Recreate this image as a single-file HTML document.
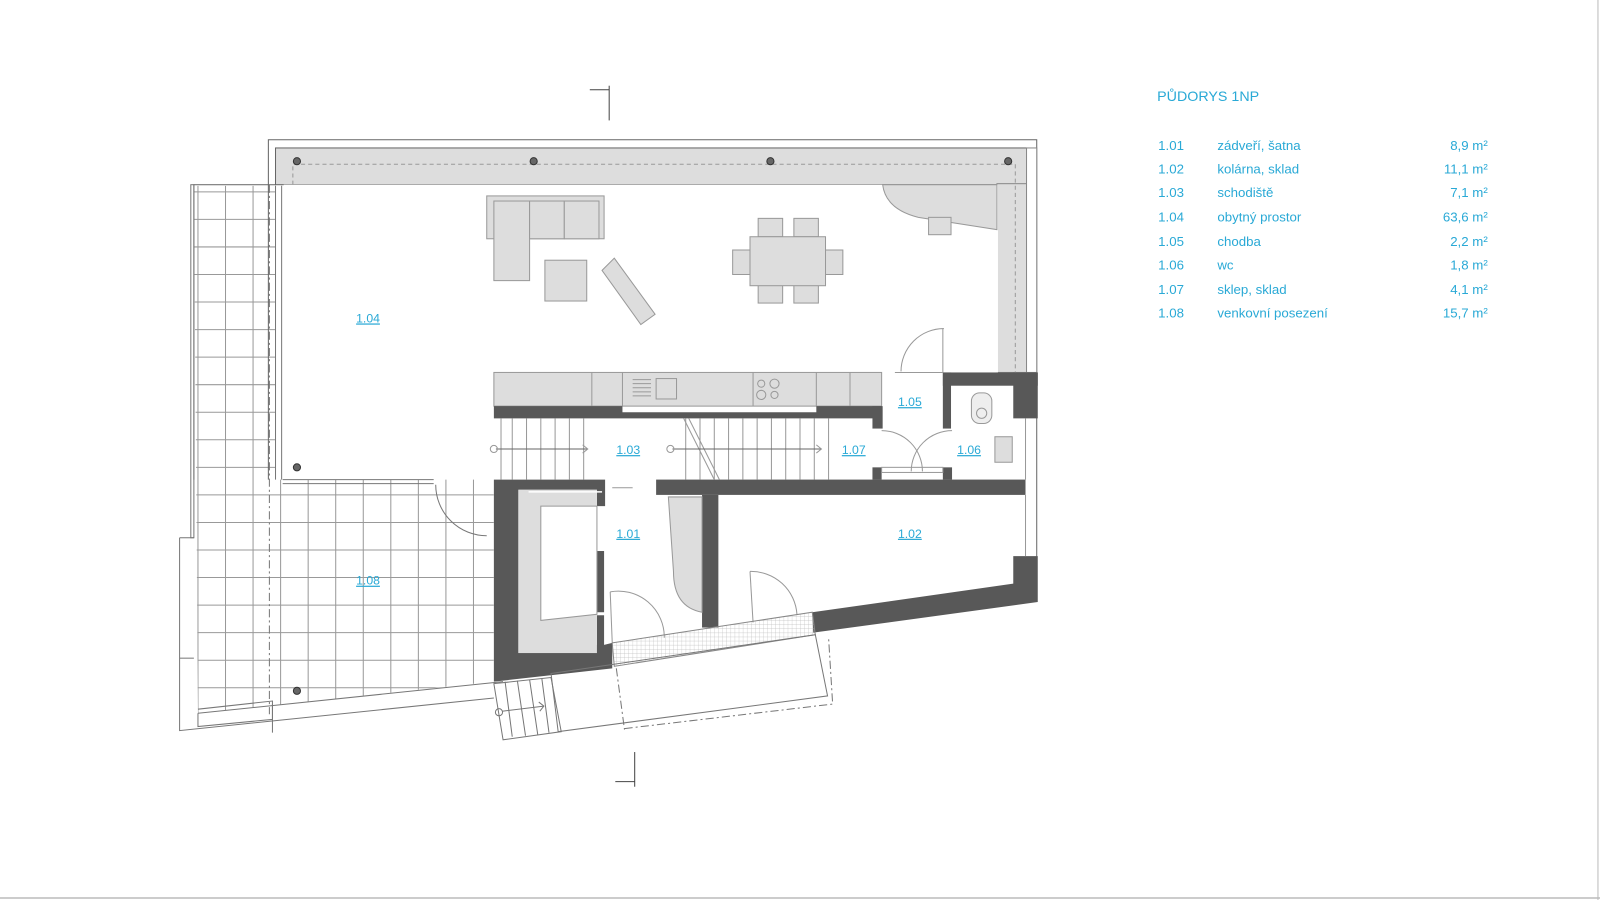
<!DOCTYPE html>
<html><head><meta charset="utf-8"><style>
html,body{margin:0;padding:0;background:#fff;width:1600px;height:900px;overflow:hidden}
svg{display:block}
.t{font-family:"Liberation Sans",sans-serif;fill:#29a9d6}
</style></head><body>
<svg width="1600" height="900" viewBox="0 0 1568 882" preserveAspectRatio="none" xmlns="http://www.w3.org/2000/svg">
<defs>
<clipPath id="terr"><polygon points="190,182 270,182 270,470 484,470 484,668 194,699"/></clipPath>
<pattern id="mesh" width="4" height="4" patternUnits="userSpaceOnUse"><path d="M0 0H4M0 0V4" stroke="#bbb" stroke-width="0.6" fill="none"/></pattern>
</defs>
<rect width="1568" height="882" fill="#fff"/>
<g clip-path="url(#terr)" stroke="#999" stroke-width="1">
<rect x="186" y="180" width="310" height="530" fill="#fff"/>
<path d="M194 180V710M221 180V710M248 180V710M275 180V710M302 180V710M329 180V710M356 180V710M383 180V710M410 180V710M437 180V710M464 180V710"/>
<path d="M186 188H500M186 215H500M186 242H500M186 269H500M186 296H500M186 323H500M186 350H500M186 377H500M186 404H500M186 431H500M186 458H500M186 485H500M186 512H500M186 539H500M186 566H500M186 593H500M186 620H500M186 647H500M186 674H500"/>
</g>
<g fill="none" stroke="#777" stroke-width="1">
<polyline points="190,470 190,181 270,181"/>
<rect x="187" y="181" width="3" height="346"/>
<polyline points="176,527 176,716 484,684"/>
<line x1="176" y1="527" x2="190" y2="527"/>
<line x1="176" y1="645" x2="190" y2="645"/>
<polyline points="194,699 194,712 267,705 267,687 194,695"/>
<line x1="194" y1="699" x2="493" y2="668"/>
<line x1="267" y1="690" x2="267" y2="718"/>
<line x1="264" y1="181" x2="264" y2="700" stroke-dasharray="8,3,2,3"/>
<line x1="276" y1="182" x2="276" y2="470"/>
<line x1="270" y1="182" x2="270" y2="470"/>
<line x1="277" y1="470" x2="425" y2="470"/>
<line x1="277" y1="474" x2="425" y2="474"/>
<path d="M427 475 A50 50 0 0 0 477 525"/>
<line x1="285" y1="245" x2="285" y2="265"/>
<path d="M282 260 L285 265 L288 260"/>
</g>
<polyline points="263,470 263,137 1016,137 1016,590" fill="none" stroke="#666"/>
<rect x="270" y="145" width="736" height="36" fill="#ddd" stroke="#666"/>
<rect x="977" y="180" width="29" height="185" fill="#ddd" stroke="#888"/>
<rect x="278" y="181" width="700" height="184" fill="#fff"/>
<polyline points="287,181 287,161 995,161 995,365" fill="none" stroke="#999" stroke-dasharray="4,3"/>
<rect x="1006" y="145" width="10" height="220" fill="#fff" stroke="#888"/>
<path d="M865 181 H977 V225 L900 213 Q868 205 865 181Z" fill="#ddd" stroke="#999"/>
<rect x="910" y="213" width="22" height="17" fill="#ddd" stroke="#999"/>
<g fill="#666" stroke="#333"><circle cx="291" cy="158" r="3.5"/><circle cx="523" cy="158" r="3.5"/><circle cx="755" cy="158" r="3.5"/><circle cx="988" cy="158" r="3.5"/><circle cx="291" cy="458" r="3.5"/><circle cx="291" cy="677" r="3.5"/></g>
<g fill="#ddd" stroke="#999">
<rect x="477" y="192" width="115" height="42"/>
<rect x="484" y="197" width="35" height="78"/>
<rect x="519" y="197" width="34" height="37"/><rect x="553" y="197" width="34" height="37"/>
<rect x="534" y="255" width="41" height="40"/>
<polygon points="590,265 602,253 642,308 628,318"/>
<rect x="743" y="214" width="24" height="18"/><rect x="778" y="214" width="24" height="18"/>
<rect x="743" y="279" width="24" height="18"/><rect x="778" y="279" width="24" height="18"/>
<rect x="718" y="245" width="18" height="24"/><rect x="808" y="245" width="18" height="24"/>
<rect x="735" y="232" width="74" height="48"/>
</g>
<rect x="484" y="365" width="380" height="33" fill="#ddd" stroke="#999"/>
<g stroke="#999" fill="none"><line x1="580" y1="365" x2="580" y2="398"/><line x1="610" y1="365" x2="610" y2="398"/><line x1="738" y1="365" x2="738" y2="398"/><line x1="800" y1="365" x2="800" y2="398"/><line x1="833" y1="365" x2="833" y2="398"/>
<rect x="643" y="371" width="20" height="20"/><circle cx="746" cy="376" r="3.5"/><circle cx="759" cy="376" r="4.5"/><circle cx="746" cy="387" r="4.5"/><circle cx="759" cy="387" r="3.5"/>
<path d="M620 372H638M620 376H638M620 380H638M620 384H638M620 388H638"/></g>
<g fill="#585858">
<polygon points="484,398 610,398 610,404 800,404 800,398 864,398 864,410 484,410"/>
<rect x="855" y="398" width="10" height="22"/>
<rect x="924" y="365" width="93" height="13"/>
<rect x="924" y="365" width="8" height="55"/>
<rect x="993" y="365" width="24" height="45"/>
<rect x="643" y="470" width="362" height="15"/>
<rect x="855" y="458" width="9" height="12"/><rect x="924" y="458" width="9" height="12"/>
<polygon points="484,470 593,470 593,496 585,496 585,480 508,480 508,640 585,632 585,603 592,603 592,632 600,630 600,655 484,668"/>
<rect x="585" y="540" width="7" height="60"/>
<rect x="688" y="485" width="16" height="130"/>
<polygon points="993,545 1017,545 1017,590 797,620 796,600 993,572"/>
</g>
<rect x="508" y="480" width="77" height="160" fill="#ddd"/>
<polygon points="530,496 585,496 585,540 585,602 530,608" fill="#fff" stroke="#999"/>
<path d="M655 487 H688 V600 Q660 595 660 560Z" fill="#ddd" stroke="#999"/>
<line x1="518" y1="482" x2="590" y2="482" stroke="#fff" stroke-width="1.5"/>
<g stroke="#999" fill="none">
<path d="M491 410V470M502 410V470M516 410V470M530 410V470M544 410V470M558 410V470M572 410V470"/>
<path d="M672 410V470M686 410V470M700 410V470M714 410V470M728 410V470M742 410V470M756 410V470M770 410V470M784 410V470M798 410V470M812 410V470"/>
<line x1="670" y1="410" x2="700" y2="470"/><line x1="675" y1="410" x2="705" y2="470"/>
<line x1="486" y1="440" x2="575" y2="440" stroke="#666"/><circle cx="484" cy="440" r="3.5"/>
<line x1="659" y1="440" x2="805" y2="440" stroke="#666"/><circle cx="657" cy="440" r="3.5"/>
<path d="M571 436L576 440 571 444M800 436L805 440 800 444"/>
<line x1="600" y1="478" x2="620" y2="478"/>
<path d="M925 322 A42 42 0 0 0 883 364"/><line x1="924" y1="322" x2="924" y2="365"/>
<path d="M864 422 A40 40 0 0 1 904 462"/><path d="M933 422 A40 40 0 0 0 893 462"/>
<rect x="864" y="458" width="60" height="5"/>
<path d="M598 580 A45 45 0 0 1 651 625"/><line x1="598" y1="580" x2="600" y2="630"/>
<path d="M735 560 A45 45 0 0 1 781 602"/><line x1="735" y1="560" x2="738" y2="610"/>
<rect x="952" y="385" width="20" height="30" rx="8" fill="#eee"/><circle cx="962" cy="405" r="5"/>
<rect x="975" y="428" width="17" height="25" fill="#ddd"/>
<line x1="1005" y1="410" x2="1005" y2="470"/>
<line x1="1005" y1="485" x2="1005" y2="545"/>
<line x1="877" y1="365" x2="924" y2="365"/>
</g>
<polygon points="600,630 796,600 799,622 602,653" fill="url(#mesh)" stroke="#888"/>
<g fill="none" stroke="#777">
<polygon points="540,660 799,622 811,682 547,717"/>
<polyline points="612,714 816,690 812,625" stroke-dasharray="8,3,2,3"/>
<line x1="604" y1="655" x2="612" y2="715" stroke-dasharray="8,3,2,3"/>
<polygon points="484,670 540,664 550,717 493,725"/>
<path d="M495 668L502 722M507 667L515 721M519 666L527 720M531 665L538 718"/>
<circle cx="489" cy="698" r="3.5"/><line x1="492" y1="697" x2="533" y2="692"/><path d="M528 688L533 692 529 697"/>
</g>
<g stroke="#444" fill="none"><line x1="597" y1="84" x2="597" y2="118"/><line x1="578" y1="88" x2="597" y2="88"/>
<line x1="622" y1="737" x2="622" y2="771"/><line x1="603" y1="766" x2="622" y2="766"/></g>
<line x1="0" y1="880" x2="1568" y2="880" stroke="#999"/>
<g class="t" font-size="12" text-decoration="underline">
<text x="349" y="316">1.04</text><text x="880" y="398">1.05</text><text x="604" y="445">1.03</text>
<text x="825" y="445">1.07</text><text x="938" y="445">1.06</text><text x="604" y="527">1.01</text>
<text x="880" y="527">1.02</text><text x="349" y="573">1.08</text>
</g>
<g class="t" font-size="13">
<text x="1134" y="99" font-size="14">PŮDORYS 1NP</text>
<text x="1135" y="147">1.01</text><text x="1193" y="147">zádveří, šatna</text><text x="1458" y="147" text-anchor="end">8,9 m²</text>
<text x="1135" y="170">1.02</text><text x="1193" y="170">kolárna, sklad</text><text x="1458" y="170" text-anchor="end">11,1 m²</text>
<text x="1135" y="193">1.03</text><text x="1193" y="193">schodiště</text><text x="1458" y="193" text-anchor="end">7,1 m²</text>
<text x="1135" y="217">1.04</text><text x="1193" y="217">obytný prostor</text><text x="1458" y="217" text-anchor="end">63,6 m²</text>
<text x="1135" y="241">1.05</text><text x="1193" y="241">chodba</text><text x="1458" y="241" text-anchor="end">2,2 m²</text>
<text x="1135" y="264">1.06</text><text x="1193" y="264">wc</text><text x="1458" y="264" text-anchor="end">1,8 m²</text>
<text x="1135" y="288">1.07</text><text x="1193" y="288">sklep, sklad</text><text x="1458" y="288" text-anchor="end">4,1 m²</text>
<text x="1135" y="311">1.08</text><text x="1193" y="311">venkovní posezení</text><text x="1458" y="311" text-anchor="end">15,7 m²</text>
</g>
<line x1="1566" y1="0" x2="1566" y2="882" stroke="#bbb"/>
</svg>
</body></html>
